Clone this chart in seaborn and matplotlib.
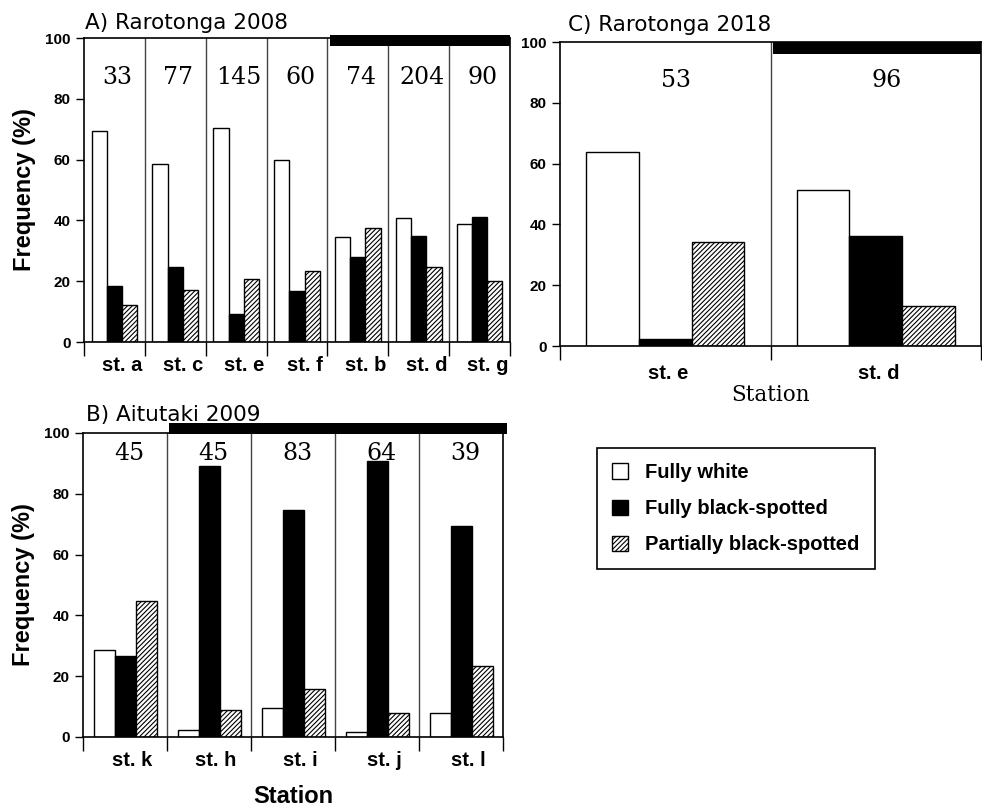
import numpy as np
import pandas as pd
import matplotlib
matplotlib.use('Agg')
import matplotlib.pyplot as plt
import matplotlib.transforms as mtrans
from matplotlib.patches import Patch, Rectangle
import seaborn as sns

sns.set_style('ticks')
plt.rcParams['font.family'] = ['Liberation Sans', 'DejaVu Sans']
plt.rcParams['hatch.linewidth'] = 0.8
for key in ['text.color', 'axes.labelcolor', 'xtick.color', 'ytick.color']:
    plt.rcParams[key] = 'black'

types = ['Fully white', 'Fully black-spotted', 'Partially black-spotted']

# A) Rarotonga 2008
st_a = ['st. a', 'st. c', 'st. e', 'st. f', 'st. b', 'st. d', 'st. g']
white_a = [69.5, 58.4, 70.4, 60.0, 34.6, 40.7, 38.8]
black_a = [18.3, 24.7, 9.2, 16.8, 28.0, 34.8, 41.1]
part_a = [12.2, 17.0, 20.7, 23.2, 37.5, 24.7, 20.0]
n_a = [33, 77, 145, 60, 74, 204, 90]

# B) Aitutaki 2009
st_b = ['st. k', 'st. h', 'st. i', 'st. j', 'st. l']
white_b = [28.7, 2.2, 9.5, 1.6, 7.9]
black_b = [26.8, 89.0, 74.8, 90.8, 69.5]
part_b = [44.6, 8.9, 15.8, 7.9, 23.2]
n_b = [45, 45, 83, 64, 39]

# C) Rarotonga 2018
st_c = ['st. e', 'st. d']
white_c = [63.8, 51.2]
black_c = [2.4, 36.3]
part_c = [34.3, 13.0]
n_c = [53, 96]


def long_df(st, w, b, p):
    return pd.DataFrame({
        'station': st * 3,
        'type': [types[0]] * len(st) + [types[1]] * len(st) + [types[2]] * len(st),
        'freq': w + b + p,
    })


fig = plt.figure(figsize=(9.82, 8.11), dpi=100)
W, H = 982, 811


def px_axes(l, t, r, b):
    return fig.add_axes([l / W, 1 - b / H, (r - l) / W, (b - t) / H])


def panel(ax, st, w, b, p, n, n_y, bar_x, bar_y, lab_pad, lab_shift):
    df = long_df(st, w, b, p)
    sns.barplot(data=df, x='station', y='freq', hue='type', order=st, hue_order=types,
                palette=['white', 'black', 'white'], edgecolor='black', linewidth=1.0,
                width=0.75, saturation=1, legend=False, ax=ax)
    for bar in ax.containers[2]:
        bar.set_hatch('///////')
    k = len(st)
    ax.set_xlim(-0.5, k - 0.5)
    ax.set_ylim(0, 100)
    ax.set_yticks([0, 20, 40, 60, 80, 100])
    for i in range(1, k):
        ax.axvline(i - 0.5, color='#444444', lw=1.0, zorder=0.5)
    ax.set_xticks(np.arange(-0.5, k, 1.0), minor=True)
    ax.tick_params(axis='x', which='minor', length=10, width=1.0, direction='out')
    ax.tick_params(axis='x', which='major', length=0, pad=lab_pad, labelsize=14.5)
    ax.tick_params(axis='y', length=6, width=1.0, labelsize=11)
    for lab in ax.get_xticklabels():
        lab.set_fontweight('bold')
        lab.set_transform(lab.get_transform() + mtrans.ScaledTranslation(lab_shift / 100, 0, fig.dpi_scale_trans))
    for lab in ax.get_yticklabels():
        lab.set_fontweight('bold')
    for s in ax.spines.values():
        s.set_linewidth(1.2)
        s.set_color('black')
    for i, v in enumerate(n):
        ax.text(i + 0.05, n_y, str(v), ha='center', va='center',
                family='DejaVu Serif', fontsize=17)
    ax.add_patch(Rectangle((bar_x[0], bar_y[0]), bar_x[1] - bar_x[0], bar_y[1] - bar_y[0],
                           facecolor='black', edgecolor='none', clip_on=False, zorder=5))
    ax.set_xlabel('')
    ax.set_ylabel('')


ax_a = px_axes(84, 38, 510, 342)
panel(ax_a, st_a, white_a, black_a, part_a, n_a, 87, (3.55, 6.5), (97.3, 101.1), 10, 8)
ax_a.set_ylabel('Frequency (%)', fontsize=17, fontweight='bold', labelpad=7)

ax_b = px_axes(83, 433, 503, 737)
panel(ax_b, st_b, white_b, black_b, part_b, n_b, 93.4, (0.52, 4.55), (99.8, 103.3), 10, 7)
ax_b.set_ylabel('Frequency (%)', fontsize=17, fontweight='bold', labelpad=7)
ax_b.set_xlabel('Station', fontsize=17, fontweight='bold', labelpad=11)

ax_c = px_axes(560, 42, 981, 346)
panel(ax_c, st_c, white_c, black_c, part_c, n_c, 87.4, (0.51, 1.5), (96.0, 100.0), 13, 3)
ax_c.set_xlabel('Station', family='DejaVu Serif', fontsize=15.5, labelpad=1)

title_font = ['DejaVu Sans']
fig.text(85 / W, 1 - 29 / H, 'A) Rarotonga 2008', family=title_font, fontsize=15.5, va='baseline')
fig.text(568 / W, 1 - 31 / H, 'C) Rarotonga 2018', family=title_font, fontsize=15.5, va='baseline')
fig.text(86 / W, 1 - 421 / H, 'B) Aitutaki 2009', family=title_font, fontsize=15.5, va='baseline')

handles = [Patch(facecolor='white', edgecolor='black', label=types[0]),
           Patch(facecolor='black', edgecolor='black', label=types[1]),
           Patch(facecolor='white', edgecolor='black', hatch='///////', label=types[2])]
leg = fig.legend(handles=handles, loc='upper left', bbox_to_anchor=(597 / W, 1 - 448 / H),
                 frameon=True, fancybox=False, edgecolor='black', framealpha=1,
                 prop={'weight': 'bold', 'size': 14.5}, handlelength=0.8, handleheight=0.8,
                 handletextpad=0.85, labelspacing=0.85, borderpad=0.75, borderaxespad=0)
leg.get_frame().set_linewidth(1.2)

fig.savefig('out.png', dpi=100)
